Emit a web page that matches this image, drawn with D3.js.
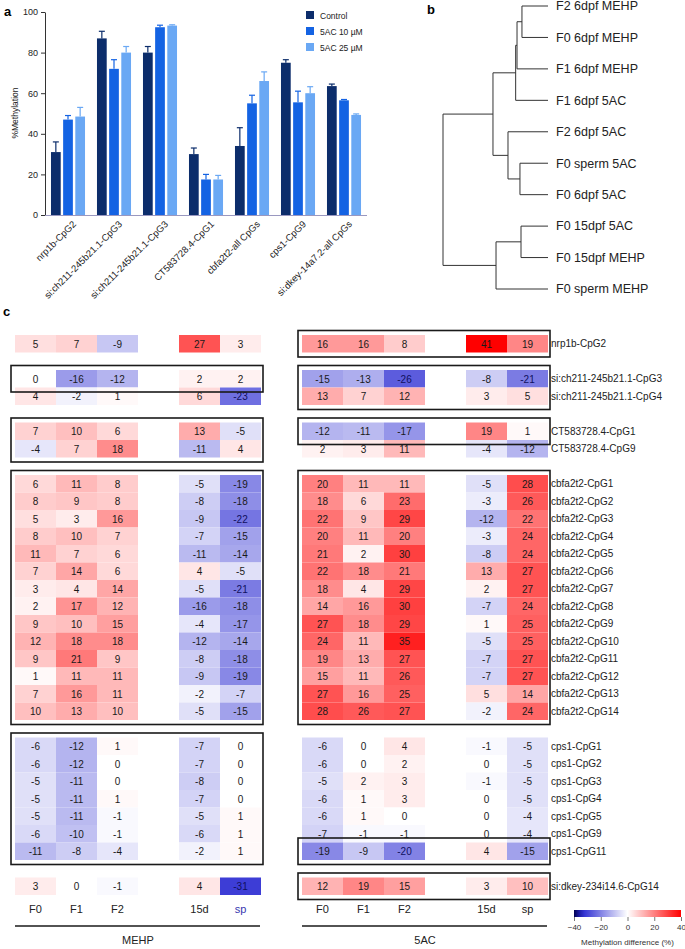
<!DOCTYPE html>
<html><head><meta charset="utf-8">
<script src="https://cdn.jsdelivr.net/npm/d3@7"></script>
<style>body{margin:0;background:#fff} svg{display:block;font-family:"Liberation Sans",Arial,sans-serif}</style>
</head><body><svg id="c" width="685" height="949"></svg>
<script>
// ---------- Panel a data ----------
const barGenes = ["nrp1b-CpG2","si:ch211-245b21.1-CpG3","si:ch211-245b21.1-CpG3","CT583728.4-CpG1","cbfa2t2-all CpGs","cps1-CpG9","si:dkey-14a7.2-all CpGs"];
const seriesNames = ["Control","5AC 10 µM","5AC 25 µM"];
const seriesColors = ["#0c2d6b","#1463e3","#6aa8f4"];
const controlVals = [31,87,80,30,34,75,63.5];
const controlErr  = [5,3.5,3,3,9,1.5,1];
const ac10Vals    = [47,72,92.5,17.5,55,55.5,56.5];
const ac10Err     = [2,4.5,1,2.5,4,5.5,0.4];
const ac25Vals    = [48.5,80,93.3,17.5,66,60,49.3];
const ac25Err     = [4.5,3,0.4,2,4.5,3.2,0.5];
const yTicks = [0,20,40,60,80,100];

// ---------- Panel b data ----------
const leafNames = ["F2 6dpf MEHP","F0 6dpf MEHP","F1 6dpf MEHP","F1 6dpf 5AC","F2 6dpf 5AC","F0 sperm 5AC","F0 6dpf 5AC","F0 15dpf 5AC","F0 15dpf MEHP","F0 sperm MEHP"];
const dendro = {h:1.0, children:[
  {h:0.524, children:[
    {h:0.308, children:[
      {h:0.295, children:[
        {h:0.248, children:[{name:"F2 6dpf MEHP"},{name:"F0 6dpf MEHP"}]},
        {name:"F1 6dpf MEHP"}]},
      {name:"F1 6dpf 5AC"}]},
    {h:0.381, children:[
      {name:"F2 6dpf 5AC"},
      {h:0.267, children:[{name:"F0 sperm 5AC"},{name:"F0 6dpf 5AC"}]}]}]},
  {h:0.495, children:[
    {h:0.257, children:[{name:"F0 15dpf 5AC"},{name:"F0 15dpf MEHP"}]},
    {name:"F0 sperm MEHP"}]}]};

// ---------- Panel c data ----------
const colLabels = ["F0","F1","F2","15d","sp"];
const rowGroups = [
  ["nrp1b-CpG2"],
  ["si:ch211-245b21.1-CpG3","si:ch211-245b21.1-CpG4"],
  ["CT583728.4-CpG1","CT583728.4-CpG9"],
  ["cbfa2t2-CpG1","cbfa2t2-CpG2","cbfa2t2-CpG3","cbfa2t2-CpG4","cbfa2t2-CpG5","cbfa2t2-CpG6","cbfa2t2-CpG7","cbfa2t2-CpG8","cbfa2t2-CpG9","cbfa2t2-CpG10","cbfa2t2-CpG11","cbfa2t2-CpG12","cbfa2t2-CpG13","cbfa2t2-CpG14"],
  ["cps1-CpG1","cps1-CpG2","cps1-CpG3","cps1-CpG4","cps1-CpG5","cps1-CpG9","cps1-CpG11"],
  ["si:dkey-234i14.6-CpG14"]
];
const mehpValues = [
  [5,7,-9,27,3],
  [0,-16,-12,2,2],[4,-2,1,6,-23],
  [7,10,6,13,-5],[-4,7,18,-11,4],
  [6,11,8,-5,-19],[8,9,8,-8,-18],[5,3,16,-9,-22],[8,10,7,-7,-15],[11,7,6,-11,-14],
  [7,14,6,4,-5],[3,4,14,-5,-21],[2,17,12,-16,-18],[9,10,15,-4,-17],[12,18,18,-12,-14],
  [9,21,9,-8,-18],[1,11,11,-9,-19],[7,16,11,-2,-7],[10,13,10,-5,-15],
  [-6,-12,1,-7,0],[-6,-12,0,-7,0],[-5,-11,0,-8,0],[-5,-11,1,-7,0],[-5,-11,-1,-5,1],[-6,-10,-1,-6,1],[-11,-8,-4,-2,1],
  [3,0,-1,4,-31]
];
const acValues = [
  [16,16,8,41,19],
  [-15,-13,-26,-8,-21],[13,7,12,3,5],
  [-12,-11,-17,19,1],[2,3,11,-4,-12],
  [20,11,11,-5,28],[18,6,23,-3,26],[22,9,29,-12,22],[20,11,20,-3,24],[21,2,30,-8,24],
  [22,18,21,13,27],[18,4,29,2,27],[14,16,30,-7,24],[27,18,29,1,25],[24,11,35,-5,25],
  [19,13,27,-7,27],[15,11,26,-7,27],[27,16,25,5,14],[28,26,27,-2,24],
  [-6,0,4,-1,-5],[-6,0,2,0,-5],[-5,2,3,-1,-5],[-6,1,3,0,-5],[-6,1,0,0,-4],[-7,-1,-1,0,-4],[-19,-9,-20,4,-15],
  [12,19,15,3,10]
];
const mehpBoxes = [["si:ch211-245b21.1-CpG3","si:ch211-245b21.1-CpG3"],["CT583728.4-CpG1","CT583728.4-CpG9"],["cbfa2t2-CpG1","cbfa2t2-CpG14"],["cps1-CpG1","cps1-CpG11"]];
const acBoxes = [["nrp1b-CpG2","nrp1b-CpG2"],["si:ch211-245b21.1-CpG3","si:ch211-245b21.1-CpG4"],["CT583728.4-CpG1","CT583728.4-CpG1"],["cbfa2t2-CpG1","cbfa2t2-CpG14"],["cps1-CpG11","cps1-CpG11"],["si:dkey-234i14.6-CpG14","si:dkey-234i14.6-CpG14"]];
const legendTicks = [-40,-20,0,20,40];

const svg = d3.select("#c");

// ================= Panel a =================
svg.append("text").attr("x",4).attr("y",16).attr("font-weight","bold").attr("font-size",13).text("a");
const xA = d3.scaleBand().domain(d3.range(barGenes.length)).range([45,367]).paddingInner(0.26).paddingOuter(0.13);
const xS = d3.scaleBand().domain(d3.range(3)).range([0,xA.bandwidth()]).paddingInner(0.2);
const yA = d3.scaleLinear().domain([0,100]).range([215,12]);
const seriesVals = [controlVals,ac10Vals,ac25Vals];
const seriesErr = [controlErr,ac10Err,ac25Err];
const gA = svg.append("g");
seriesVals.forEach((vals,s)=>{
  const g = gA.append("g");
  vals.forEach((v,i)=>{
    const x = xA(i)+xS(s), w = xS.bandwidth();
    g.append("rect").attr("x",x).attr("y",yA(v)).attr("width",w).attr("height",yA(0)-yA(v)).attr("fill",seriesColors[s]);
    const e = v+seriesErr[s][i], cx = x+w/2;
    g.append("line").attr("x1",cx).attr("x2",cx).attr("y1",yA(v)).attr("y2",yA(e)).attr("stroke",seriesColors[s]).attr("stroke-width",1.2);
    g.append("line").attr("x1",cx-3).attr("x2",cx+3).attr("y1",yA(e)).attr("y2",yA(e)).attr("stroke",seriesColors[s]).attr("stroke-width",1.2);
  });
});
const yAx = svg.append("g").attr("transform","translate(45,0)").call(d3.axisLeft(yA).tickValues(yTicks).tickSize(4).tickSizeOuter(0));
yAx.selectAll("text").attr("font-size",9).attr("fill","#222").attr("font-family","Liberation Sans, Arial");
yAx.selectAll("line,path").attr("stroke","#333");
svg.append("line").attr("x1",45).attr("x2",367).attr("y1",yA(0)+0.5).attr("y2",yA(0)+0.5).attr("stroke","#9a98c0").attr("stroke-width",1.2);
svg.append("text").attr("transform","translate(18,113) rotate(-90)").attr("text-anchor","middle").attr("font-size",8.5).attr("fill","#222").text("%Methylation");
barGenes.forEach((g,i)=>{
  const cx = xA(i)+xA.bandwidth()/2+4;
  svg.append("text").attr("transform",`translate(${cx},220) rotate(-45)`).attr("text-anchor","end").attr("dy","0.7em")
    .attr("font-size",9.5).attr("fill","#222").text(g);
});
seriesNames.forEach((n,s)=>{
  const y = 15+16*s;
  svg.append("rect").attr("x",306).attr("y",y-4).attr("width",8).attr("height",8).attr("fill",seriesColors[s]);
  svg.append("text").attr("x",320).attr("y",y+3.5).attr("font-size",8.5).attr("fill","#222").text(n);
});

// ================= Panel b =================
svg.append("text").attr("x",427).attr("y",14).attr("font-weight","bold").attr("font-size",13).text("b");
const root = d3.hierarchy(dendro);
const xB = d3.scaleLinear().domain([0,1]).range([548,443]);
const yB = d3.scalePoint().domain(leafNames).range([6,289]);
root.eachAfter(n=>{
  if(!n.children){ n.py = yB(n.data.name); n.px = xB(0); }
  else { n.py = d3.mean(n.children,c=>c.py); n.px = xB(n.data.h); }
});
const gB = svg.append("g").attr("stroke","#333").attr("stroke-width",1).attr("fill","none");
root.each(n=>{
  if(n.children){
    gB.append("line").attr("x1",n.px).attr("x2",n.px).attr("y1",d3.min(n.children,c=>c.py)).attr("y2",d3.max(n.children,c=>c.py));
    n.children.forEach(c=>gB.append("line").attr("x1",n.px).attr("x2",c.px).attr("y1",c.py).attr("y2",c.py));
  }
});
root.leaves().forEach(l=>{
  svg.append("text").attr("x",556).attr("y",l.py).attr("dy","0.35em").attr("font-size",12.5).attr("fill","#222").text(l.data.name);
});

// ================= Panel c =================
svg.append("text").attr("x",3).attr("y",316).attr("font-weight","bold").attr("font-size",13).text("c");
const rowNames = rowGroups.flat();
const slots = [];
rowGroups.forEach((g,i)=>{ if(i>0) slots.push("gap"+i); g.forEach(r=>slots.push(r)); });
const yC = d3.scaleBand().domain(slots).range([335,895]);
const colDomain = ["F0","F1","F2","_gap","15d","sp"];
const color = d3.scaleLinear().domain([-40,-34,0,40]).range(["#000050","#2a2ad2","#ffffff","#ff0000"]);

function drawPanel(x0, values, boxes, title, spColor){
  const xC = d3.scaleBand().domain(colDomain).range([x0,x0+246]);
  const g = svg.append("g");
  rowNames.forEach((r,i)=>{
    colLabels.forEach((c,j)=>{
      const v = values[i][j];
      g.append("rect").attr("x",xC(c)).attr("y",yC(r)).attr("width",xC.bandwidth()).attr("height",yC.bandwidth()).attr("fill",color(v));
      g.append("text").attr("x",xC(c)+xC.bandwidth()/2).attr("y",yC(r)+yC.bandwidth()/2).attr("dy","0.38em")
        .attr("text-anchor","middle").attr("font-size",10).attr("fill", v<=-20 ? "#101060" : "#1a1a1a").text(v);
    });
  });
  boxes.forEach(([a,b])=>{
    g.append("rect").attr("x",x0-4).attr("y",yC(a)-4.5).attr("width",246+6).attr("height",yC(b)+yC.bandwidth()-yC(a)+9)
      .attr("fill","none").attr("stroke","#1a1a1a").attr("stroke-width",1.6);
  });
  colLabels.forEach(c=>{
    g.append("text").attr("x",xC(c)+xC.bandwidth()/2).attr("y",913).attr("text-anchor","middle").attr("font-size",11)
      .attr("fill", c==="sp" && spColor ? spColor : "#222").text(c);
  });
  g.append("line").attr("x1",x0).attr("x2",x0+245).attr("y1",926).attr("y2",926).attr("stroke","#1a1a1a").attr("stroke-width",1.5);
  g.append("text").attr("x",x0+123).attr("y",944).attr("text-anchor","middle").attr("font-size",11).attr("fill","#222").text(title);
}
drawPanel(15, mehpValues, mehpBoxes, "MEHP", "#3838b0");
drawPanel(302, acValues, acBoxes, "5AC", null);

rowNames.forEach(r=>{
  svg.append("text").attr("x",551).attr("y",yC(r)+yC.bandwidth()/2).attr("dy","0.35em").attr("font-size",10).attr("fill","#222").text(r);
});

// color legend
const xL = d3.scaleLinear().domain([-40,40]).range([574,681]);
const grad = svg.append("defs").append("linearGradient").attr("id","lg");
d3.range(-40,41,4).forEach(v=>grad.append("stop").attr("offset",((v+40)/80*100)+"%").attr("stop-color",color(v)));
svg.append("rect").attr("x",xL(-40)).attr("y",910).attr("width",xL(40)-xL(-40)).attr("height",7).attr("fill","url(#lg)");
const lAx = svg.append("g").attr("transform","translate(0,917)").call(d3.axisBottom(xL).tickValues(legendTicks).tickSize(4).tickSizeOuter(0));
lAx.select(".domain").remove();
lAx.selectAll("line").attr("stroke","#777");
lAx.selectAll("text").attr("font-size",8).attr("fill","#333").attr("font-family","Liberation Sans, Arial");
svg.append("text").attr("x",xL(0)).attr("y",945).attr("text-anchor","middle").attr("font-size",8).attr("fill","#333").text("Methylation difference (%)");
</script></body></html>
